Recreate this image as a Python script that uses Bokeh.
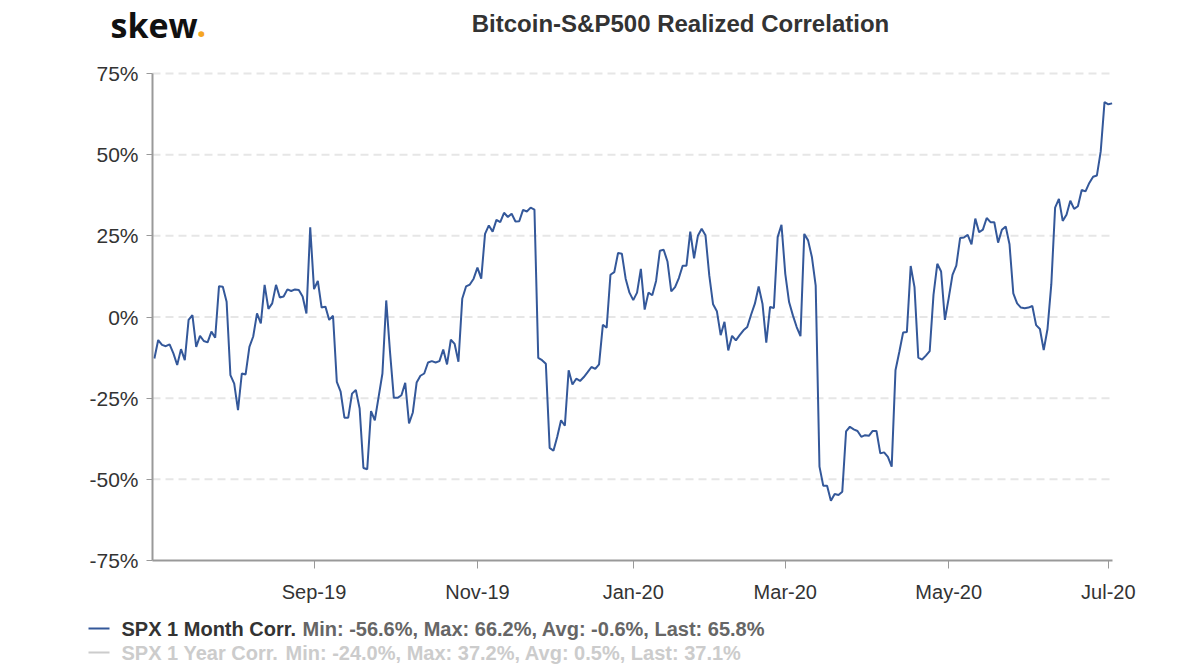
import pandas as pd
from bokeh.plotting import figure
from bokeh.models import FixedTicker, Range1d, Label, BoxAnnotation
from bokeh.embed import file_html
from bokeh.resources import INLINE

# ---------------- data ----------------
start_date = "2019-07-03"
end_date = "2020-07-02"
market_holidays = ["2019-07-04", "2019-09-02", "2019-11-28", "2019-12-25",
                   "2020-01-01", "2020-01-20", "2020-02-17", "2020-04-10",
                   "2020-05-25"]

# SPX 1 month realized correlation (%), one value per trading day
spx_1m_jul_oct19 = [
    -12.8, -7.1, -8.6, -9.0, -8.4, -11.2, -14.8, -9.9, -13.3, -0.9,
    0.6, -9.2, -5.8, -7.4, -7.8, -4.5, -6.4, 9.5, 9.3, 4.7,
    -17.9, -20.5, -28.7, -17.4, -17.7, -9.2, -6.0, 1.1, -2.0, 9.9,
    2.5, 4.2, 9.9, 6.0, 6.3, 8.5, 8.0, 8.5, 8.3, 6.3,
    1.1, 27.6, 8.6, 11.1, 2.9, 3.2, -0.9, 0.4, -20.0, -23.0,
    -31.0, -31.0, -23.6, -22.5, -28.2, -46.5, -46.9, -29.0, -31.8, -24.6,
    -17.4,
]
spx_1m_oct_dec19 = [
    5.1, -10.8, -24.9, -24.9, -24.1, -20.3, -32.8, -29.4, -20.2, -18.1,
    -17.4, -14.0, -13.6, -14.0, -13.6, -10.0, -14.6, -7.0, -8.3, -13.8,
    5.6, 9.4, 10.0, 11.8, 15.2, 11.8, 25.6, 28.2, 26.3, 29.9,
    29.2, 32.1, 30.8, 31.8, 29.4, 29.5, 33.0, 32.5, 33.7, 33.1,
    -12.6, -13.3, -14.4, -40.3, -41.2, -36.9, -31.8, -33.5, -16.4, -20.8,
    -19.0, -19.7, -18.5, -17.0, -15.4, -16.0, -14.6,
]
spx_1m_dec19_feb20 = [
    -2.4, -3.3, 13.0, 13.8, 19.7, 19.5, 11.8, 7.5, 5.2, 7.5,
    14.8, 2.3, 7.5, 6.7, 11.1, 20.4, 20.7, 17.1, 7.9, 9.2,
    12.0, 15.8, 15.8, 26.3, 18.1, 25.0, 27.2, 25.2, 12.8, 3.9,
    1.8,
]
spx_1m_feb_may20 = [
    -5.6, -1.5, -10.3, -5.8, -7.2, -5.6, -4.1, -3.1, 0.7, 4.1,
    9.4, 4.1, -7.9, 3.1, 2.8, 24.6, 28.4, 13.3, 4.6, 0.5,
    -3.1, -5.9, 25.6, 23.6, 18.5, 9.7, -46.1, -52.0, -52.0, -56.6,
    -54.5, -54.8, -53.8, -35.2, -33.8, -34.6, -35.1, -36.9, -36.4, -36.6,
    -35.1, -35.1, -42.0, -41.7, -43.1, -46.1, -16.4, -10.8, -4.8, -4.6,
    15.7, 9.2, -12.5,
]
spx_1m_may_jul20 = [
    -13.1, -11.9, -10.5, 6.8, 16.4, 14.0, -0.9, 5.8, 13.0, 15.8,
    24.3, 24.5, 25.3, 22.4, 30.3, 26.1, 26.9, 30.5, 29.2, 29.2,
    22.9, 26.9, 27.9, 22.4, 7.3, 4.2, 2.9, 2.7, 2.9, 3.4,
    -2.5, -3.7, -10.2, -3.7, 10.1, 33.7, 36.4, 29.6, 31.5, 35.8,
    33.3, 34.1, 39.1, 38.7, 41.3, 43.2, 43.6, 51.0, 66.2, 65.5,
    65.8,
]

tick_months = ["2019-09", "2019-11", "2020-01", "2020-03", "2020-05", "2020-07"]
tick_labels = ["Sep-19", "Nov-19", "Jan-20", "Mar-20", "May-20", "Jul-20"]
y_ticks = [-75, -50, -25, 0, 25, 50, 75]
y_tick_labels = ["-75%", "-50%", "-25%", "0%", "25%", "50%", "75%"]

title_text = "Bitcoin-S&P500 Realized Correlation"
series_names = ["SPX 1 Month Corr.", "SPX 1 Year Corr."]
series_stats = ["Min: -56.6%, Max: 66.2%, Avg: -0.6%, Last: 65.8%",
                "Min: -24.0%, Max: 37.2%, Avg: 0.5%, Last: 37.1%"]

# ---------------- build ----------------
values = (spx_1m_jul_oct19 + spx_1m_oct_dec19 + spx_1m_dec19_feb20
          + spx_1m_feb_may20 + spx_1m_may_jul20)
cbd = pd.offsets.CustomBusinessDay(holidays=market_holidays)
dates = pd.date_range(start_date, end_date, freq=cbd)[:len(values)]
idx = list(range(len(values)))

month_keys = [d.strftime("%Y-%m") for d in dates]
tick_pos = [month_keys.index(m) for m in tick_months]

FONT = "Liberation Sans"
LINE = "#34589A"

# canvas & plot-area geometry (pixels)
W, H = 1200, 668
FL, FR, FT, FB = 152, 1112, 73, 560
X0, X1 = -0.5, 252.1          # index range shown in the plot area
Y0, Y1 = -75.0, 75.0          # value range shown in the plot area
kx = (FR - FL) / (X1 - X0)
ky = (FB - FT) / (Y1 - Y0)
x_range = Range1d(X0 - FL / kx, X1 + (W - FR) / kx)
y_range = Range1d(Y0 - (H - FB) / ky, Y1 + FT / ky)

p = figure(width=W, height=H, output_backend="svg", toolbar_location=None,
           x_range=x_range, y_range=y_range, min_border=0)
p.outline_line_color = None
p.xgrid.grid_line_color = None
p.ygrid.grid_line_color = None

# dashed horizontal grid lines at the y ticks
grid_y = [t for t in y_ticks if t != Y0]
p.segment(x0=[X0] * len(grid_y), y0=grid_y, x1=[X1] * len(grid_y), y1=grid_y,
          line_color="#e6e6e6", line_width=2, line_dash="8 5")

p.line(idx, values, line_color=LINE, line_width=2)

# axes pinned to the plot-area edges
p.xaxis.fixed_location = Y0
p.xaxis.bounds = (X0, X1)
p.yaxis.fixed_location = X0
p.yaxis.bounds = (Y0, Y1)
p.xaxis.ticker = FixedTicker(ticks=tick_pos)
p.xaxis.major_label_overrides = {t: l for t, l in zip(tick_pos, tick_labels)}
p.yaxis.ticker = FixedTicker(ticks=y_ticks)
p.yaxis.major_label_overrides = {t: l for t, l in zip(y_ticks, y_tick_labels)}
for ax in (p.xaxis, p.yaxis):
    ax.axis_line_color = "#999999"
    ax.axis_line_width = 2
    ax.major_tick_line_color = "#999999"
    ax.major_tick_line_width = 1
    ax.minor_tick_line_color = None
    ax.major_tick_in = 0
    ax.major_label_text_font = FONT
    ax.major_label_text_color = "#333333"
p.xaxis.major_tick_out = 8
p.xaxis.major_label_standoff = 12
p.xaxis.major_label_text_font_size = "20px"
p.yaxis.major_tick_out = 6
p.yaxis.major_label_standoff = 8
p.yaxis.major_label_text_font_size = "21px"


def label(px, py, text, **kw):
    p.add_layout(Label(x=px, y=H - py, x_units="screen", y_units="screen",
                       text=text, text_baseline="middle", **kw))


# header: logo + title
label(110, 24, "skew", text_font="Open Sans", text_font_size="34px",
      text_font_style="bold", text_color="#111111")
label(196, 24, ".", text_font="Open Sans", text_font_size="34px",
      text_font_style="bold", text_color="#F5A623")
label(680, 23, title_text, text_font=FONT, text_font_size="24px",
      text_font_style="bold", text_color="#333333", text_align="center")

# legend
row_y = [628, 652]
stats_x = [302, 285]
sample_colors = [LINE, "#cccccc"]
name_colors = ["#333333", "#cccccc"]
stat_colors = ["#666666", "#cccccc"]
for ry, sx_, sc, nc, stc, name, stats in zip(row_y, stats_x, sample_colors, name_colors,
                                             stat_colors, series_names, series_stats):
    p.add_layout(BoxAnnotation(left=88, right=109, bottom=H - ry - 1, top=H - ry + 1,
                               left_units="screen", right_units="screen",
                               bottom_units="screen", top_units="screen",
                               fill_color=sc, fill_alpha=1, line_alpha=0))
    label(121, ry, name, text_font=FONT, text_font_size="20px",
          text_font_style="bold", text_color=nc)
    label(sx_, ry, stats, text_font=FONT, text_font_size="20px",
          text_font_style="bold", text_color=stc)

open("out.html", "w").write(file_html(p, INLINE))
